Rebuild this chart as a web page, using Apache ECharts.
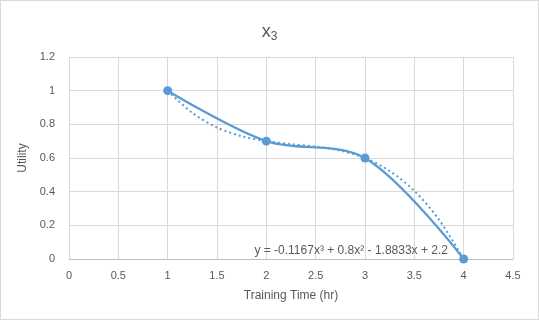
<!DOCTYPE html>
<html><head><meta charset="utf-8">
<script src="https://cdn.jsdelivr.net/npm/echarts@6/dist/echarts.min.js"></script>
<style>html,body{margin:0;padding:0;background:#fff}#c{width:539px;height:320px;box-sizing:border-box;border:1px solid #d9d9d9}</style>
</head><body><div id="c"></div>
<script>
const xValues = [1, 2, 3, 4];
const utility = [1, 0.7, 0.6, 0];
const trendX = [1, 1.25, 1.5, 1.75, 2, 2.25, 2.5, 2.75, 3, 3.25, 3.5, 3.75, 4];
const trendY = [1, 0.868, 0.781, 0.729, 0.7, 0.683, 0.668, 0.644, 0.6, 0.523, 0.405, 0.234, 0];
const equation = 'y = -0.1167x³ + 0.8x² - 1.8833x + 2.2';
const eqPos = [2.86, 0.05];

const font = 'Liberation Sans';
const grey = '#595959';
const chart = echarts.init(document.getElementById('c'));
chart.setOption({
  animation: false,
  textStyle: {fontFamily: font},
  title: {
    text: '{a|x}{b|3}', left: 'center', top: 16,
    textStyle: {fontWeight: 'normal', rich: {a: {fontSize: 18, color: grey, fontFamily: font, fontWeight: 'normal'}, b: {fontSize: 12, color: grey, fontFamily: font, fontWeight: 'normal', padding: [9, 0, 0, 0]}}}
  },
  grid: {left: 68, right: 25, top: 56, bottom: 60},
  xAxis: {
    type: 'value', min: 0, max: 4.5, interval: 0.5,
    name: 'Training Time (hr)', nameLocation: 'middle', nameGap: 31,
    nameTextStyle: {fontSize: 12, color: grey, fontFamily: font},
    axisLine: {lineStyle: {color: '#bfbfbf'}},
    axisTick: {show: false},
    axisLabel: {fontSize: 11, color: grey, margin: 11},
    splitLine: {show: true, lineStyle: {color: '#d9d9d9'}}
  },
  yAxis: {
    type: 'value', min: 0, max: 1.2, interval: 0.2,
    name: 'Utility', nameLocation: 'middle', nameGap: 31,
    nameTextStyle: {fontSize: 12, color: grey, fontFamily: font},
    axisLine: {show: false}, axisTick: {show: false},
    axisLabel: {fontSize: 11, color: grey, margin: 14},
    splitLine: {lineStyle: {color: '#d9d9d9'}}
  },
  series: [
    {
      type: 'line', data: trendX.map((x, i) => [x, trendY[i]]), smooth: 0.3,
      symbol: 'none', lineStyle: {color: '#5B9BD5', width: 2, type: [2, 3]},
      markPoint: {
        symbol: 'circle', symbolSize: 0,
        itemStyle: {color: 'rgba(0,0,0,0)'},
        data: [{coord: eqPos, label: {show: true, position: 'inside', formatter: equation, fontSize: 12, color: grey, fontFamily: font}}]
      }
    },
    {
      type: 'line', data: xValues.map((x, i) => [x, utility[i]]), smooth: 0.33,
      symbol: 'circle', symbolSize: 9,
      itemStyle: {color: '#5B9BD5'}, lineStyle: {color: '#5B9BD5', width: 2.25}
    }
  ]
});
</script></body></html>
